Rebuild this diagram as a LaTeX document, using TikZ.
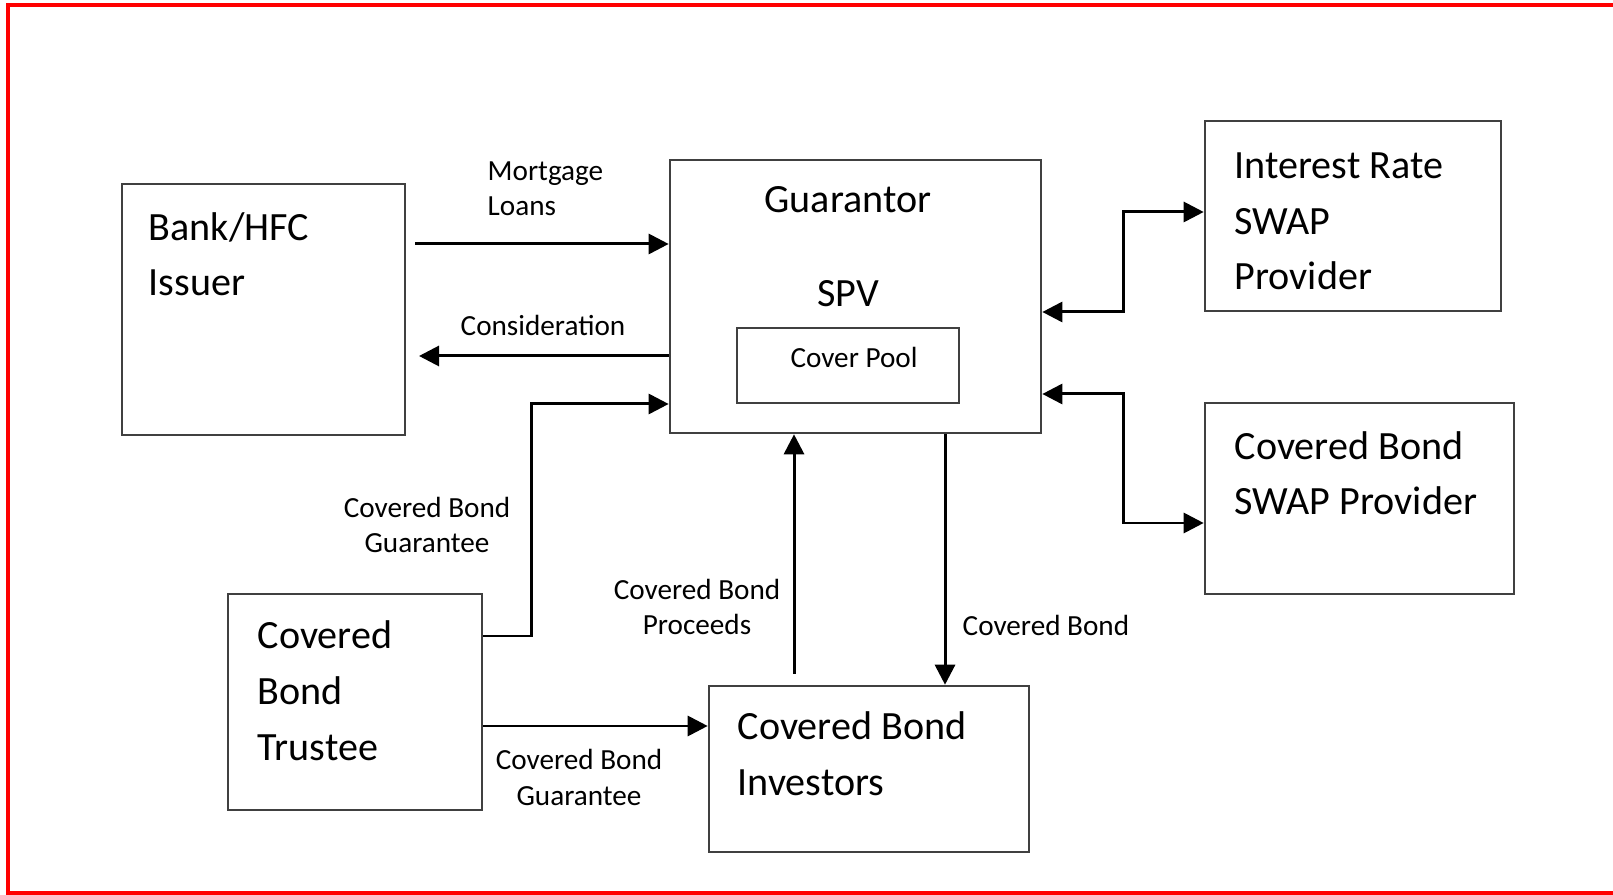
\documentclass[tikz,border=0pt]{standalone}
\usepackage{fontspec}
\setmainfont{Carlito}
\usepackage{tikz}
\usetikzlibrary{arrows.meta}

\tikzset{
    box/.style={draw=black!75, line width=0.7pt, rectangle, inner sep=0pt},
    bigtxt/.style={inner sep=0pt, align=left, font=\fontsize{11.4}{15.9}\selectfont},
    smalltxt/.style={inner sep=0pt, align=center, font=\fontsize{8.3}{10.2}\selectfont},
    arr/.style={-{Triangle[length=0.2cm,width=0.2cm]}, line width=0.85pt},
    biarr/.style={{Triangle[length=0.2cm,width=0.2cm]}-{Triangle[length=0.2cm,width=0.2cm]}, line width=0.85pt}
}

\begin{document}
\begin{tikzpicture}[x=0.01cm, y=-0.01cm]
        \useasboundingbox (0,0) rectangle (1613,895);
        % red frame, open on the right
        \draw[red, line width=1.1pt] (1625,5) -- (8,5) -- (8,893) -- (1625,893);

        % the boxes
        \node[box, minimum width=2.83cm, minimum height=2.51cm] (bank) at (263.5,309.5) {};
        \node[box, minimum width=3.71cm, minimum height=2.73cm] (spv) at (855.5,296.5) {};
        \node[box, minimum width=2.22cm, minimum height=0.75cm] (pool) at (848,365.5) {};
        \node[box, minimum width=2.54cm, minimum height=2.16cm] (trustee) at (355,702) {};
        \node[box, minimum width=3.20cm, minimum height=1.66cm] (investors) at (869,769) {};
        \node[box, minimum width=2.96cm, minimum height=1.90cm] (irs) at (1353,216) {};
        \node[box, minimum width=3.09cm, minimum height=1.91cm] (cbs) at (1359.5,498.5) {};

        % texts in the boxes (base = baseline of the last line)
        \node[bigtxt, anchor=base west] (bankT) at (148,296) {Bank/HFC\\Issuer};
        \node[bigtxt, anchor=base] (guarT) at (848,213) {Guarantor};
        \node[bigtxt, anchor=base] (spvT) at (848,307) {SPV};
        \node[smalltxt, anchor=base] (poolT) at (854,368) {Cover Pool};
        \node[bigtxt, anchor=base west] (trusteeT) at (257,760) {Covered\\Bond\\Trustee};
        \node[bigtxt, anchor=base west] (investorsT) at (737,795) {Covered Bond\\Investors};
        \node[bigtxt, anchor=base west] (irsT) at (1234,290) {Interest Rate\\SWAP\\Provider};
        \node[bigtxt, anchor=base west] (cbsT) at (1234,515) {Covered Bond\\SWAP Provider};

        % points where the connectors bend or start
        \coordinate (mortS) at (415,244);
        \coordinate (consE) at (419,356);
        \coordinate (gBend) at (531,636);
        \coordinate (gTop) at (531,404);
        \coordinate (tInv) at (482,726);
        \coordinate (procS) at (794,674);
        \coordinate (cbX) at (945,433);
        \coordinate (irsLow) at (1123,312);
        \coordinate (irsHigh) at (1123,212);
        \coordinate (cbsHigh) at (1123,394);
        \coordinate (cbsLow) at (1123,523);

        % connectors
        \draw[arr] (mortS) -- (mortS -| spv.west);
        \draw[arr] (spv.west |- consE) -- (consE);
        \draw[arr] (trustee.east |- gBend) -- (gBend) -- (gTop) -- (spv.west |- gTop);
        \draw[arr] (trustee.east |- tInv) -- (investors.west |- tInv);
        \draw[arr] (procS) -- (procS |- spv.south);
        \draw[arr] (spv.south -| cbX) -- (investors.north -| cbX);
        \draw[biarr] (spv.east |- irsLow) -- (irsLow) -- (irsHigh) -- (irs.west |- irsHigh);
        \draw[biarr] (spv.east |- cbsHigh) -- (cbsHigh) -- (cbsLow) -- (cbs.west |- cbsLow);

        % connector labels
        \node[smalltxt, align=left, anchor=base west] (mortL) at (487,216) {Mortgage\\Loans};
        \node[smalltxt, anchor=base west] (consL) at (460,336) {Consideration};
        \node[smalltxt, anchor=base] (guarL) at (427,553) {Covered Bond\\Guarantee};
        \node[smalltxt, anchor=base] (guarL2) at (579,805) {Covered Bond\\Guarantee};
        \node[smalltxt, anchor=base] (procL) at (697,635) {Covered Bond\\Proceeds};
        \node[smalltxt, anchor=base west] (cbL) at (962,636) {Covered Bond};
\end{tikzpicture}
\end{document}
